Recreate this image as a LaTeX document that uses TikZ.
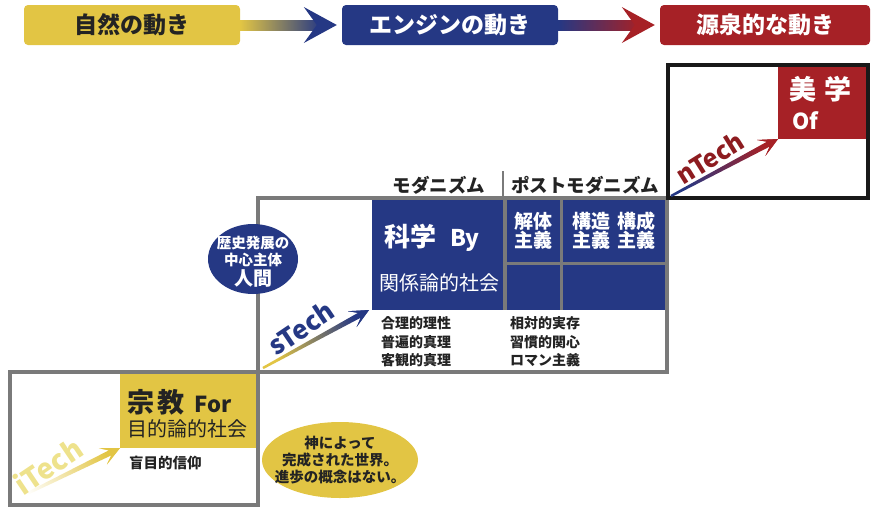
\documentclass[tikz,border=0pt]{standalone}
\usepackage{fontspec}
\setmainfont{Noto Sans CJK JP}
\usetikzlibrary{calc,shapes.geometric}
\definecolor{cyel}{RGB}{226,197,68}
\definecolor{cblue}{RGB}{37,56,132}
\definecolor{cred}{RGB}{166,33,38}
\definecolor{cgray}{RGB}{122,122,122}
\definecolor{ctxt}{RGB}{35,35,35}
\newcommand\fs[1]{\fontsize{#1}{#1}\selectfont}
% shaded arrow: #1 tail, #2 tip, #3 tail colour, #4 tip colour, #5 shading angle
\newcommand\gradarrow[5]{%
  \path (#2) coordinate (tmpT) ($(#2)!19pt!(#1)$) coordinate (tmpH) ($(#2)!11pt!(#1)$) coordinate (tmpN);
  \shade[left color=#3, right color=#4, shading angle=#5]
    ($(#1)!1.2pt!90:(tmpT)$) -- ($(tmpN)!2.8pt!90:(tmpT)$) -- ($(tmpH)!9pt!90:(tmpT)$) -- (tmpT)
    -- ($(tmpH)!9pt!-90:(tmpT)$) -- ($(tmpN)!2.8pt!-90:(tmpT)$) -- ($(#1)!1.2pt!-90:(tmpT)$) -- cycle;
  \fill[#4] ($(tmpN)!2.8pt!90:(tmpT)$) -- ($(tmpH)!9pt!90:(tmpT)$) -- (tmpT)
    -- ($(tmpH)!9pt!-90:(tmpT)$) -- ($(tmpN)!2.8pt!-90:(tmpT)$) -- cycle;
}
% banner arrow: #1 from node, #2 to node, #3 colour 1, #4 colour 2
\newcommand\bannerarrow[4]{%
  \shade[left color=#3, right color=#4] ($(#1.east)+(0,-5)$) rectangle ($(#2.west)+(-20,5)$);
  \fill[#4] ($(#2.west)+(-5,0)$) -- ($(#2.west)+(-38,-18)$) -- ($(#2.west)+(-25,0)$) -- ($(#2.west)+(-38,18)$) -- cycle;
}
\begin{document}
\begin{tikzpicture}[x=1pt,y=-1pt,
  banner/.style={rounded corners=4pt, minimum height=40pt, inner sep=0pt, font=\fs{23}\bfseries},
  frame/.style={draw=cgray, line width=3.5pt},
  box/.style={inner sep=0pt, outer sep=0pt, anchor=north west},
  lbl/.style={inner sep=0pt, anchor=west, text=ctxt},
  wlbl/.style={inner sep=0pt, anchor=west, text=white},
  ctr/.style={inner sep=0pt, align=center},
]
\useasboundingbox (0,0) rectangle (872,509);

% banners
\node[banner, fill=cyel, text=ctxt, minimum width=216pt] (nat) at (132,25) {自然の動き};
\node[banner, fill=cblue, text=white, minimum width=216pt] (eng) at (450,25) {エンジンの動き};
\node[banner, fill=cred, text=white, minimum width=210pt] (src) at (765,25) {源泉的な動き};
\bannerarrow{nat}{eng}{cyel}{cblue}
\bannerarrow{eng}{src}{cblue}{cred}

% step frames
\draw[frame] (10,372) rectangle (258,505);
\draw[frame] (258,198) rectangle (667,372);

% religion step
\node[box, fill=cyel, minimum width=136pt, minimum height=74pt] (rel) at (120,374) {};
\node[lbl, font=\fs{27}\bfseries] (relt) at (127,402) {宗\kern3pt 教\kern10pt{\fs{22}For}};
\node[lbl, font=\fs{20}] (relsub) at (127,429) {目的論的社会};
\node[lbl, font=\fs{14.5}\bfseries] (blind) at (129,463) {盲目的信仰};

% science step
\node[box, fill=cblue, minimum width=131pt, minimum height=110pt] (sci) at (372,200) {};
\fill[cgray] (503,200) rectangle (665,310);
\node[box, fill=cblue, minimum width=53pt, minimum height=62pt] (c1) at (507,200) {};
\node[box, fill=cblue, minimum width=102pt, minimum height=62pt] (c2) at (563,200) {};
\node[box, fill=cblue, minimum width=53pt, minimum height=45pt] (c3) at (507,265) {};
\node[box, fill=cblue, minimum width=102pt, minimum height=45pt] (c4) at (563,265) {};
\node[wlbl, font=\fs{26}\bfseries] (scit) at (384,238) {科学\kern14pt{\fs{23}By}};
\node[wlbl, font=\fs{20}] (scisub) at (379,283) {関係論的社会};
\node[ctr, text=white, font=\fs{19}\bfseries] (c1t) at (c1) {解体\\主義};
\node[ctr, text=white, font=\fs{19}\bfseries] (c2t) at (c2) {構造\kern7pt 構成\\主義\kern7pt 主義};

% headers
\node[inner sep=0pt, text=ctxt, font=\fs{18.5}\bfseries] (mod) at (439,185) {モダニズム};
\node[inner sep=0pt, text=ctxt, font=\fs{18.5}\bfseries] (pmod) at (585,185) {ポストモダニズム};
\draw[cgray, line width=2pt] (503,171) -- (503,198);

% lists
\node[lbl, align=left, font=\fontsize{14}{18.5}\selectfont\bfseries] (lmod) at (381,342) {合理的理性\\普遍的真理\\客観的真理};
\node[lbl, align=left, font=\fontsize{14}{18.5}\selectfont\bfseries] (lpmod) at (510,342) {相対的実存\\習慣的関心\\ロマン主義};

% aesthetics step
\draw[black!90, line width=4pt] (668,65) rectangle (868,198);
\node[box, fill=cred, minimum width=88pt, minimum height=72pt] (aes) at (778,67) {};
\node[wlbl, font=\fs{27}\bfseries] (aest) at (789,89) {美\kern8pt 学};
\node[wlbl, font=\fs{22}\bfseries] (aesof) at (792,121) {Of};

% ellipses
\node[ellipse, fill=cblue, minimum width=90pt, minimum height=70pt, inner sep=0pt] (hum) at (253,259) {};
\node[inner sep=0pt, text=white, font=\fs{14.5}\bfseries] at (253,243) {歴史発展の};
\node[inner sep=0pt, text=white, font=\fs{14.5}\bfseries] at (253,259.5) {中心主体};
\node[inner sep=0pt, text=white, font=\fs{19}\bfseries] at (253,278) {人間};
\node[ellipse, fill=cyel, minimum width=156pt, minimum height=76pt, inner sep=0pt] (god) at (340,460) {};
\node[inner sep=0pt, text=ctxt, font=\fs{14.5}\bfseries] at (340,443) {神によって};
\node[inner sep=0pt, text=ctxt, font=\fs{14.5}\bfseries] at (340,460) {完成された世界。};
\node[inner sep=0pt, text=ctxt, font=\fs{14.5}\bfseries] at (340,477) {進歩の概念はない。};

% tech arrows
\coordinate (i0) at (14,500);
\coordinate (s0) at (263,368);
\coordinate (sTip) at ($(sci.south west)+(-3,0)$);
\coordinate (n0) at (671,196);
\gradarrow{i0}{rel.south west}{white}{cyel}{117}
\gradarrow{s0}{sTip}{cyel}{cblue}{119}
\gradarrow{n0}{aes.south west}{cblue}{cred}{118}
\node[rotate=34, inner sep=0pt, font=\fs{28}\bfseries, text={rgb,255:red,238;green,226;blue,140}] (itx) at (48,466) {iTech};
\node[rotate=34, inner sep=0pt, font=\fs{26}\bfseries, text=cblue] (stx) at (301,328) {sTech};
\node[rotate=32, inner sep=0pt, font=\fs{25}\bfseries, text=cred!85!black] (ntx) at (710,158) {nTech};
\end{tikzpicture}
\end{document}
